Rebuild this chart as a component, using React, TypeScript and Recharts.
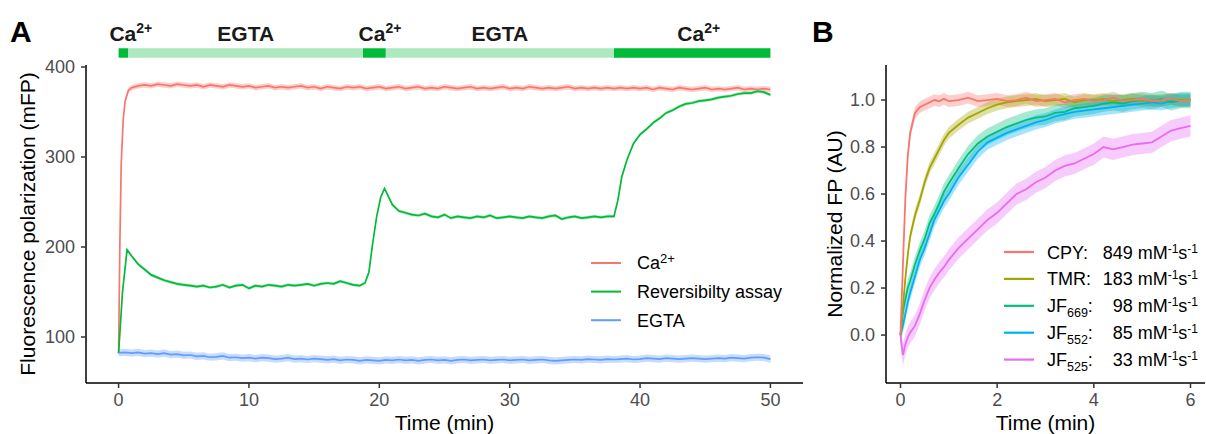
import {
  Area,
  ComposedChart,
  Line,
  ReferenceArea,
  ReferenceDot,
  XAxis,
  YAxis,
} from "recharts";

const FONT = '"Liberation Sans", Arial, Helvetica, sans-serif';

// ---------- Panel A data (time in min, FP in mFP) ----------
const caPoints = [
  [0, 82], [0.1, 205], [0.2, 292], [0.35, 341], [0.5, 362], [0.75, 374], [1, 377],
  [1.5, 379], [2, 380], [2.5, 379], [3, 381], [3.5, 380], [4, 379], [4.5, 381],
  [5, 380], [5.5, 379], [6, 380], [6.5, 378], [7, 380], [7.5, 379], [8, 378],
  [8.5, 380], [9, 379], [9.5, 378], [10, 379], [10.5, 377], [11, 378], [11.5, 379],
  [12, 377], [12.5, 378], [13, 377], [13.5, 378], [14, 379], [14.5, 377], [15, 378],
  [15.5, 376], [16, 378], [16.5, 377], [17, 376], [17.5, 378], [18, 377], [18.5, 378],
  [19, 376], [19.5, 377], [20, 378], [20.5, 376], [21, 377], [21.5, 378], [22, 376],
  [22.5, 377], [23, 378], [23.5, 376], [24, 377], [24.5, 376], [25, 378], [25.5, 377],
  [26, 376], [26.5, 377], [27, 378], [27.5, 376], [28, 377], [28.5, 376], [29, 377],
  [29.5, 378], [30, 376], [30.5, 377], [31, 376], [31.5, 378], [32, 377], [32.5, 376],
  [33, 377], [33.5, 376], [34, 377], [34.5, 378], [35, 376], [35.5, 377], [36, 376],
  [36.5, 377], [37, 376], [37.5, 377], [38, 376], [38.5, 377], [39, 376], [39.5, 377],
  [40, 376], [40.5, 377], [41, 375], [41.5, 377], [42, 376], [42.5, 375], [43, 377],
  [43.5, 376], [44, 375], [44.5, 376], [45, 377], [45.5, 375], [46, 376], [46.5, 375],
  [47, 376], [47.5, 377], [48, 375], [48.5, 376], [49, 375], [49.5, 376], [50, 375],
];

const revPoints = [
  [0, 82], [0.3, 150], [0.65, 197], [1, 190], [1.5, 181], [2, 175], [2.5, 169],
  [3, 166], [3.5, 163], [4, 161], [4.5, 159], [5, 158], [5.5, 157], [6, 156],
  [6.5, 157], [7, 155], [7.5, 156], [8, 158], [8.5, 155], [9, 157], [9.5, 158],
  [10, 154], [10.5, 157], [11, 156], [11.5, 158], [12, 157], [12.5, 156], [13, 158],
  [13.5, 157], [14, 158], [14.5, 159], [15, 157], [15.5, 159], [16, 160], [16.5, 159],
  [17, 162], [17.5, 160], [18, 158], [18.5, 157], [18.9, 160], [19.2, 172], [19.5, 205],
  [19.8, 234], [20.1, 255], [20.4, 265], [20.7, 256], [21, 247], [21.5, 240], [22, 238],
  [22.5, 236], [23, 235], [23.5, 237], [24, 234], [24.5, 233], [25, 236], [25.5, 232],
  [26, 234], [26.5, 233], [27, 232], [27.5, 234], [28, 233], [28.5, 235], [29, 232],
  [29.5, 233], [30, 234], [30.5, 233], [31, 232], [31.5, 234], [32, 233], [32.5, 232],
  [33, 234], [33.5, 235], [34, 231], [34.5, 233], [35, 234], [35.5, 232], [36, 233],
  [36.5, 234], [37, 233], [37.5, 234], [38, 234], [38.3, 252], [38.6, 278], [39, 297],
  [39.5, 315], [40, 325], [40.5, 331], [41, 338], [41.5, 343], [42, 349], [42.5, 352],
  [43, 356], [43.5, 359], [44, 360], [44.5, 362], [45, 363], [45.5, 364], [46, 366],
  [46.5, 367], [47, 368], [47.5, 370], [48, 371], [48.5, 371], [49, 373], [49.5, 372],
  [50, 369],
];

const egtaPoints = [
  [0, 82.5], [0.5, 83], [1, 82], [1.5, 83], [2, 81.5], [2.5, 82], [3, 81], [3.5, 82],
  [4, 80.5], [4.5, 81], [5, 79.5], [5.5, 80], [6, 78.5], [6.5, 79], [7, 77.5], [7.5, 78],
  [8, 79], [8.5, 77], [9, 77.5], [9.5, 76.5], [10, 77], [10.5, 76], [11, 77], [11.5, 76.5],
  [12, 75.5], [12.5, 76], [13, 77], [13.5, 75.5], [14, 76], [14.5, 75], [15, 76],
  [15.5, 75.5], [16, 74.5], [16.5, 75.5], [17, 74], [17.5, 75], [18, 74.5], [18.5, 73.5],
  [19, 74.5], [19.5, 74], [20, 73.5], [20.5, 74.5], [21, 74], [21.5, 75], [22, 74],
  [22.5, 74.5], [23, 73.5], [23.5, 74.5], [24, 75], [24.5, 74], [25, 74.5], [25.5, 73.5],
  [26, 74.5], [26.5, 75], [27, 74], [27.5, 74.5], [28, 75], [28.5, 74], [29, 74.5],
  [29.5, 75], [30, 74], [30.5, 74.5], [31, 75], [31.5, 74], [32, 74.5], [32.5, 75],
  [33, 74], [33.5, 73.5], [34, 74], [34.5, 74.5], [35, 75], [35.5, 74.5], [36, 75.5],
  [36.5, 75], [37, 74.5], [37.5, 75.5], [38, 75], [38.5, 75.5], [39, 76], [39.5, 75],
  [40, 75.5], [40.5, 76.5], [41, 76], [41.5, 75.5], [42, 76.5], [42.5, 76], [43, 75.5],
  [43.5, 76], [44, 76.5], [44.5, 76], [45, 75.5], [45.5, 76], [46, 76.5], [46.5, 76],
  [47, 77], [47.5, 76.5], [48, 76], [48.5, 77], [49, 77.5], [49.5, 77], [50, 75.5],
];

// spread of the shaded ribbons (mFP)
const caSd = 3;
const revSd = 1.8;
const egtaSd = 4;

// treatment bar on top of panel A
const phaseStarts = [0, 0.75, 18.75, 20.5, 38];
const phaseEnds = [0.75, 18.75, 20.5, 38, 50];
const phaseIsCa = [true, false, true, false, true];
const phaseLabelTimes = [0.94, 9.75, 20.05, 29.25, 44.5];

const xTicksA = [0, 10, 20, 30, 40, 50];
const yTicksA = [100, 200, 300, 400];

// ---------- Panel B data (time in min, normalized FP) ----------
const bTime = [
  0, 0.05, 0.1, 0.15, 0.2, 0.3, 0.4, 0.5, 0.6, 0.7, 0.8, 0.9, 1.0, 1.2, 1.4, 1.6, 1.8,
  2.0, 2.2, 2.4, 2.6, 2.8, 3.0, 3.2, 3.4, 3.6, 3.8, 4.0, 4.2, 4.4, 4.6, 4.8, 5.0, 5.2,
  5.4, 5.6, 5.8, 6.0,
];
const cpyValues = [
  0, 0.3, 0.58, 0.76, 0.86, 0.945, 0.97, 0.98, 0.99, 1.0, 0.995, 1.005, 0.995, 1.0, 1.01,
  0.995, 1.0, 1.005, 0.995, 1.0, 1.01, 0.995, 1.0, 1.005, 0.99, 1.0, 1.005, 0.995, 1.0,
  1.01, 0.995, 1.0, 1.005, 0.995, 1.0, 1.005, 0.995, 1.0,
];
const tmrValues = [
  0, 0.12, 0.24, 0.34, 0.42, 0.51, 0.575, 0.65, 0.71, 0.75, 0.79, 0.83, 0.86, 0.895,
  0.925, 0.945, 0.965, 0.98, 0.99, 0.995, 1.0, 1.005, 0.995, 1.0, 1.005, 0.99, 1.0, 1.0,
  1.005, 0.995, 1.0, 1.005, 0.995, 1.0, 0.995, 1.005, 1.0, 1.0,
];
const jf669Values = [
  0, 0.1, 0.15, 0.2, 0.23, 0.3, 0.36, 0.41, 0.475, 0.515, 0.56, 0.61, 0.645, 0.71, 0.77,
  0.815, 0.845, 0.865, 0.885, 0.9, 0.915, 0.925, 0.93, 0.945, 0.95, 0.965, 0.97, 0.975,
  0.985, 0.99, 0.985, 0.995, 1.0, 0.995, 1.005, 0.99, 1.0, 1.0,
];
const jf552Values = [
  0, 0.04, 0.09, 0.14, 0.18, 0.25, 0.32, 0.37, 0.43, 0.49, 0.53, 0.57, 0.6, 0.67, 0.725,
  0.78, 0.82, 0.84, 0.86, 0.875, 0.89, 0.905, 0.915, 0.93, 0.94, 0.95, 0.955, 0.96,
  0.965, 0.97, 0.975, 0.98, 0.985, 0.99, 0.985, 0.995, 1.0, 1.0,
];
const jf525Values = [
  0, -0.085, -0.04, -0.01, 0.01, 0.04, 0.09, 0.15, 0.2, 0.235, 0.265, 0.29, 0.32, 0.37,
  0.41, 0.45, 0.49, 0.52, 0.56, 0.6, 0.62, 0.65, 0.67, 0.7, 0.72, 0.73, 0.75, 0.77, 0.8,
  0.79, 0.8, 0.81, 0.815, 0.82, 0.845, 0.87, 0.88, 0.89,
];

const xTicksB = [0, 2, 4, 6];
const yTicksB = [0, 0.2, 0.4, 0.6, 0.8, 1.0];

// ---------- colours ----------
const RED = "#F8766D";
const GREEN = "#00BA38";
const BLUE = "#619CFF";
const LIGHT_GREEN = "#ADE8BF";

const bSeries = [
  { name: "CPY", sub: "", rate: "849", values: cpyValues, sd: 0.025, color: "#F8766D" },
  { name: "TMR", sub: "", rate: "183", values: tmrValues, sd: 0.025, color: "#A3A500" },
  { name: "JF", sub: "669", rate: "98", values: jf669Values, sd: 0.035, color: "#00BF7D" },
  { name: "JF", sub: "552", rate: "85", values: jf552Values, sd: 0.03, color: "#00B0F6" },
  { name: "JF", sub: "525", rate: "33", values: jf525Values, sd: 0.045, color: "#E76BF3" },
];

const toRows = (pts: number[][], sd: number) =>
  pts.map(([t, v]) => ({ t, v, band: [v - sd, v + sd] }));

const caData = toRows(caPoints, caSd);
const revData = toRows(revPoints, revSd);
const egtaData = toRows(egtaPoints, egtaSd);

const tickStyle = { fill: "#4D4D4D", fontSize: 18 };
const axisLine = { stroke: "#000", strokeWidth: 1.5 };
const tickLine = { stroke: "#333", strokeWidth: 1.5 };

const XTitle = (props: any) => {
  const vb = props.viewBox;
  return (
    <text x={vb.x + vb.width / 2} y={vb.y + 46.5} textAnchor="middle" fontSize={21} fill="#000">
      Time (min)
    </text>
  );
};

const yTitle = (text: string, baseX: number) => (props: any) => {
  const vb = props.viewBox;
  return (
    <text
      transform={`translate(${vb.x + baseX}, ${vb.y + vb.height / 2}) rotate(-90)`}
      textAnchor="middle"
      fontSize={21}
      fill="#000"
    >
      {text}
    </text>
  );
};

const PhaseLabel = ({ cx, cy, isCa }: any) => (
  <text x={cx} y={cy} textAnchor="middle" fontSize={21} fontWeight={700} fill="#1A1A1A">
    {isCa ? "Ca" : "EGTA"}
    {isCa && (
      <tspan dy={-8} fontSize={14}>
        2+
      </tspan>
    )}
  </text>
);

const PanelA = () => (
  <ComposedChart width={810} height={434} margin={{ top: 65, right: 7, bottom: 0, left: 0 }}>
    <XAxis
      type="number"
      dataKey="t"
      domain={[-2.5, 52.5]}
      ticks={xTicksA}
      allowDataOverflow
      height={51}
      tickSize={5}
      tickMargin={5}
      tick={tickStyle}
      axisLine={axisLine}
      tickLine={tickLine}
      label={XTitle}
    />
    <YAxis
      type="number"
      domain={[48.9, 402.2]}
      ticks={yTicksA}
      allowDataOverflow
      width={86}
      tickSize={5}
      tickMargin={6}
      tick={tickStyle}
      axisLine={axisLine}
      tickLine={tickLine}
      label={yTitle("Fluorescence polarization (mFP)", 35)}
    />
    {phaseStarts.map((s, i) => (
      <ReferenceArea
        key={`ph${i}`}
        x1={s}
        x2={phaseEnds[i]}
        y1={410.3}
        y2={420.8}
        ifOverflow="visible"
        fill={phaseIsCa[i] ? GREEN : LIGHT_GREEN}
        fillOpacity={1}
        stroke="none"
      />
    ))}
    {phaseLabelTimes.map((t, i) => (
      <ReferenceDot
        key={`pl${i}`}
        x={t}
        y={428.9}
        r={0}
        ifOverflow="visible"
        shape={(p: any) => <PhaseLabel cx={p.cx} cy={p.cy} isCa={phaseIsCa[i]} />}
      />
    ))}
    <Area data={caData} dataKey="band" type="linear" fill={RED} fillOpacity={0.35} stroke="none" isAnimationActive={false} />
    <Area data={revData} dataKey="band" type="linear" fill={GREEN} fillOpacity={0.3} stroke="none" isAnimationActive={false} />
    <Area data={egtaData} dataKey="band" type="linear" fill={BLUE} fillOpacity={0.35} stroke="none" isAnimationActive={false} />
    <Line data={caData} dataKey="v" type="linear" stroke={RED} strokeWidth={1.7} dot={false} isAnimationActive={false} />
    <Line data={revData} dataKey="v" type="linear" stroke={GREEN} strokeWidth={1.7} dot={false} isAnimationActive={false} />
    <Line data={egtaData} dataKey="v" type="linear" stroke={BLUE} strokeWidth={1.7} dot={false} isAnimationActive={false} />
  </ComposedChart>
);

const PanelB = () => (
  <ComposedChart width={396} height={434} margin={{ top: 65, right: 1, bottom: 0, left: 0 }}>
    <XAxis
      type="number"
      dataKey="t"
      domain={[-0.3, 6.3]}
      ticks={xTicksB}
      allowDataOverflow
      height={51}
      tickSize={5}
      tickMargin={5}
      tick={tickStyle}
      axisLine={axisLine}
      tickLine={tickLine}
      label={XTitle}
    />
    <YAxis
      type="number"
      domain={[-0.204, 1.149]}
      ticks={yTicksB}
      allowDataOverflow
      width={76}
      tickSize={5}
      tickMargin={6}
      tick={tickStyle}
      tickFormatter={(v: number) => v.toFixed(1)}
      axisLine={axisLine}
      tickLine={tickLine}
      label={yTitle("Normalized FP (AU)", 32)}
    />
    {bSeries.map((s) => (
      <Area
        key={`a${s.name}${s.sub}`}
        data={bTime.map((t, i) => ({ t, band: [s.values[i] - s.sd, s.values[i] + s.sd] }))}
        dataKey="band"
        type="linear"
        fill={s.color}
        fillOpacity={0.35}
        stroke="none"
        isAnimationActive={false}
      />
    ))}
    {[...bSeries].reverse().map((s) => (
      <Line
        key={`l${s.name}${s.sub}`}
        data={bTime.map((t, i) => ({ t, v: s.values[i] }))}
        dataKey="v"
        type="linear"
        stroke={s.color}
        strokeWidth={1.8}
        dot={false}
        isAnimationActive={false}
      />
    ))}
  </ComposedChart>
);

const legendA = [
  { label: "Ca", sup: "2+", color: RED },
  { label: "Reversibilty assay", sup: "", color: GREEN },
  { label: "EGTA", sup: "", color: BLUE },
];

const Overlay = () => (
  <svg width={1206} height={434} style={{ position: "absolute", left: 0, top: 0, pointerEvents: "none" }}>
    <text x={10} y={42} fontSize={30} fontWeight={700} fill="#000">A</text>
    <text x={812} y={42} fontSize={30} fontWeight={700} fill="#000">B</text>

    {legendA.map((r, i) => {
      const cy = 263 + i * 28.6;
      return (
        <g key={r.label}>
          <line x1={591} x2={621} y1={cy} y2={cy} stroke={r.color} strokeWidth={2} />
          <text x={637} y={cy + 6.3} fontSize={18} fill="#000">
            {r.label}
            {r.sup && (
              <tspan dy={-6} fontSize={13}>
                {r.sup}
              </tspan>
            )}
          </text>
        </g>
      );
    })}

    {bSeries.map((s, i) => {
      const cy = 252 + i * 26.9;
      const base = cy + 6.5;
      return (
        <g key={`lg${s.name}${s.sub}`}>
          <line x1={1004} x2={1034} y1={cy} y2={cy} stroke={s.color} strokeWidth={2.2} />
          <text x={1047} y={base} fontSize={18} fill="#000">
            {s.name}
            {s.sub ? (
              <>
                <tspan dy={5} fontSize={12.5}>{s.sub}</tspan>
                <tspan dy={-5}>:</tspan>
              </>
            ) : (
              ":"
            )}
          </text>
          <text x={1198} y={base} fontSize={18} fill="#000" textAnchor="end">
            {`${s.rate} mM`}
            <tspan dy={-6} fontSize={12}>-1</tspan>
            <tspan dy={6}>s</tspan>
            <tspan dy={-6} fontSize={12}>-1</tspan>
          </text>
        </g>
      );
    })}
  </svg>
);

export default function App() {
  return (
    <div
      style={{
        position: "absolute",
        left: 0,
        top: 0,
        width: 1206,
        height: 434,
        background: "#fff",
        fontFamily: FONT,
        overflow: "hidden",
      }}
    >
      <div style={{ position: "absolute", left: 0, top: 0 }}>
        <PanelA />
      </div>
      <div style={{ position: "absolute", left: 810, top: 0 }}>
        <PanelB />
      </div>
      <Overlay />
    </div>
  );
}
